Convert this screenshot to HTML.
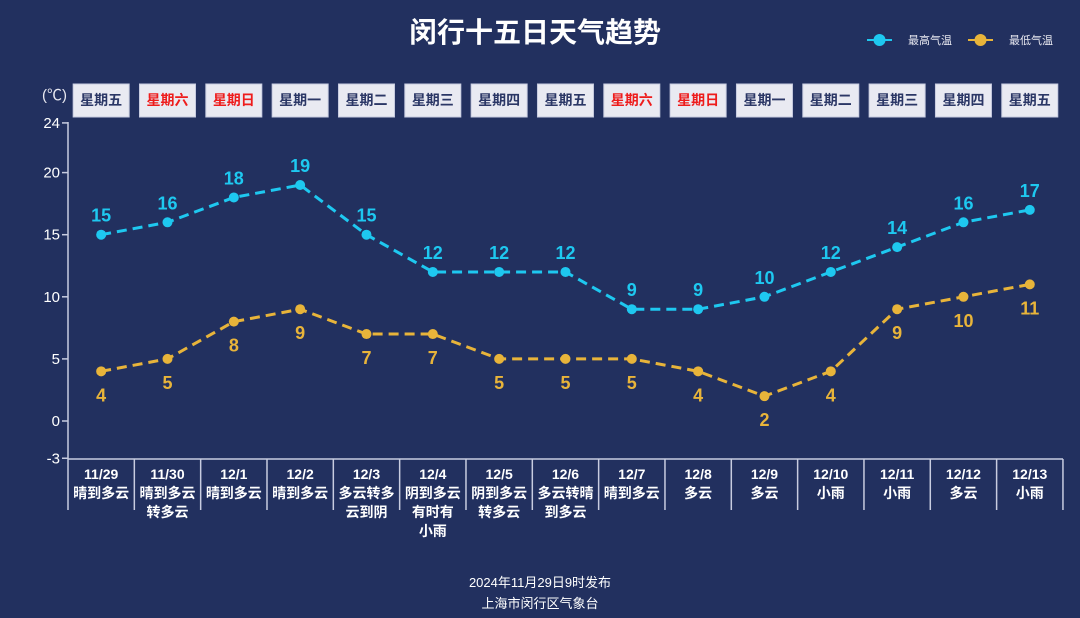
<!DOCTYPE html>
<html><head><meta charset="utf-8"><style>
html,body{margin:0;padding:0;background:#22305f;}
svg{display:block;font-family:"Liberation Sans","Noto Sans CJK SC",sans-serif;}
</style></head><body>
<svg width="1080" height="618" viewBox="0 0 1080 618" xmlns="http://www.w3.org/2000/svg">
<rect width="1080" height="618" fill="#22305f"/>
<text x="535" y="42" text-anchor="middle" fill="#fff" font-size="28" font-weight="bold">闵行十五日天气趋势</text>
<line x1="867" y1="40" x2="892" y2="40" stroke="#1ec8f0" stroke-width="2"/><circle cx="879.5" cy="40" r="6" fill="#1ec8f0"/>
<text x="908" y="44" fill="#e8e8f0" font-size="11">最高气温</text>
<line x1="968" y1="40" x2="993" y2="40" stroke="#e8b43a" stroke-width="2"/><circle cx="980.5" cy="40" r="6" fill="#e8b43a"/>
<text x="1009" y="44" fill="#e8e8f0" font-size="11">最低气温</text>
<text x="42" y="100" fill="#e8e8f0" font-size="15">(℃)</text>
<g id="boxes"></g>
<g stroke="#c8cce0" stroke-width="1.5" fill="none">
<line x1="68" y1="122" x2="68" y2="510"/>
<line x1="68" y1="459" x2="1063" y2="459"/>
</g>
<g id="yt" fill="#fff" font-size="15" text-anchor="end"></g>
<g id="xs"></g>
<g id="series"></g>
<text x="540" y="587" text-anchor="middle" fill="#fff" font-size="13">2024年11月29日9时发布</text>
<text x="540" y="608" text-anchor="middle" fill="#fff" font-size="13">上海市闵行区气象台</text>
</svg>
<script>
const NS="http://www.w3.org/2000/svg";
function el(p,t,a,txt){const e=document.createElementNS(NS,t);for(const k in a)e.setAttribute(k,a[k]);if(txt!=null)e.textContent=txt;document.getElementById(p).appendChild(e);return e;}
const W=66.33,X0=68;const cx=i=>X0+W*i+W/2;const Y=v=>421-12.42*v;
const wk=["星期五","星期六","星期日","星期一","星期二","星期三","星期四","星期五","星期六","星期日","星期一","星期二","星期三","星期四","星期五"];
wk.forEach((w,i)=>{const red=w=="星期六"||w=="星期日";
el("boxes","rect",{x:cx(i)-28,y:84,width:56,height:33,fill:"#e9eaf2",stroke:"#c8cce0"});
el("boxes","text",{x:cx(i),y:105,"text-anchor":"middle","font-size":14,"font-weight":"bold",fill:red?"#ee1c1c":"#2b3766"},w);});
[24,20,15,10,5,0,-3].forEach(v=>{el("yt","text",{x:60,y:Y(v)+5},v);el("yt","line",{x1:62,y1:Y(v),x2:68,y2:Y(v),stroke:"#c8cce0","stroke-width":1.5});});
const lab=[["11/29","晴到多云"],["11/30","晴到多云","转多云"],["12/1","晴到多云"],["12/2","晴到多云"],["12/3","多云转多","云到阴"],["12/4","阴到多云","有时有","小雨"],["12/5","阴到多云","转多云"],["12/6","多云转晴","到多云"],["12/7","晴到多云"],["12/8","多云"],["12/9","多云"],["12/10","小雨"],["12/11","小雨"],["12/12","多云"],["12/13","小雨"]];
lab.forEach((l,i)=>{el("xs","line",{x1:X0+W*(i+1),y1:459,x2:X0+W*(i+1),y2:510,stroke:"#c8cce0","stroke-width":1.5});
l.forEach((s,j)=>el("xs","text",{x:cx(i),y:479+j*19,"text-anchor":"middle","font-size":14,"font-weight":"bold",fill:"#fff"},s));});
const hi=[15,16,18,19,15,12,12,12,9,9,10,12,14,16,17],lo=[4,5,8,9,7,7,5,5,5,4,2,4,9,10,11];
function ser(d,c,above){el("series","polyline",{points:d.map((v,i)=>cx(i)+","+Y(v)).join(" "),fill:"none",stroke:c,"stroke-width":3,"stroke-dasharray":"10,6"});
d.forEach((v,i)=>{el("series","circle",{cx:cx(i),cy:Y(v),r:5,fill:c});
el("series","text",{x:cx(i),y:above?Y(v)-13:Y(v)+30,"text-anchor":"middle","font-size":18,"font-weight":"bold",fill:c},v);});}
ser(hi,"#1ec8f0",true);ser(lo,"#e8b43a",false);
</script>
</body></html>
